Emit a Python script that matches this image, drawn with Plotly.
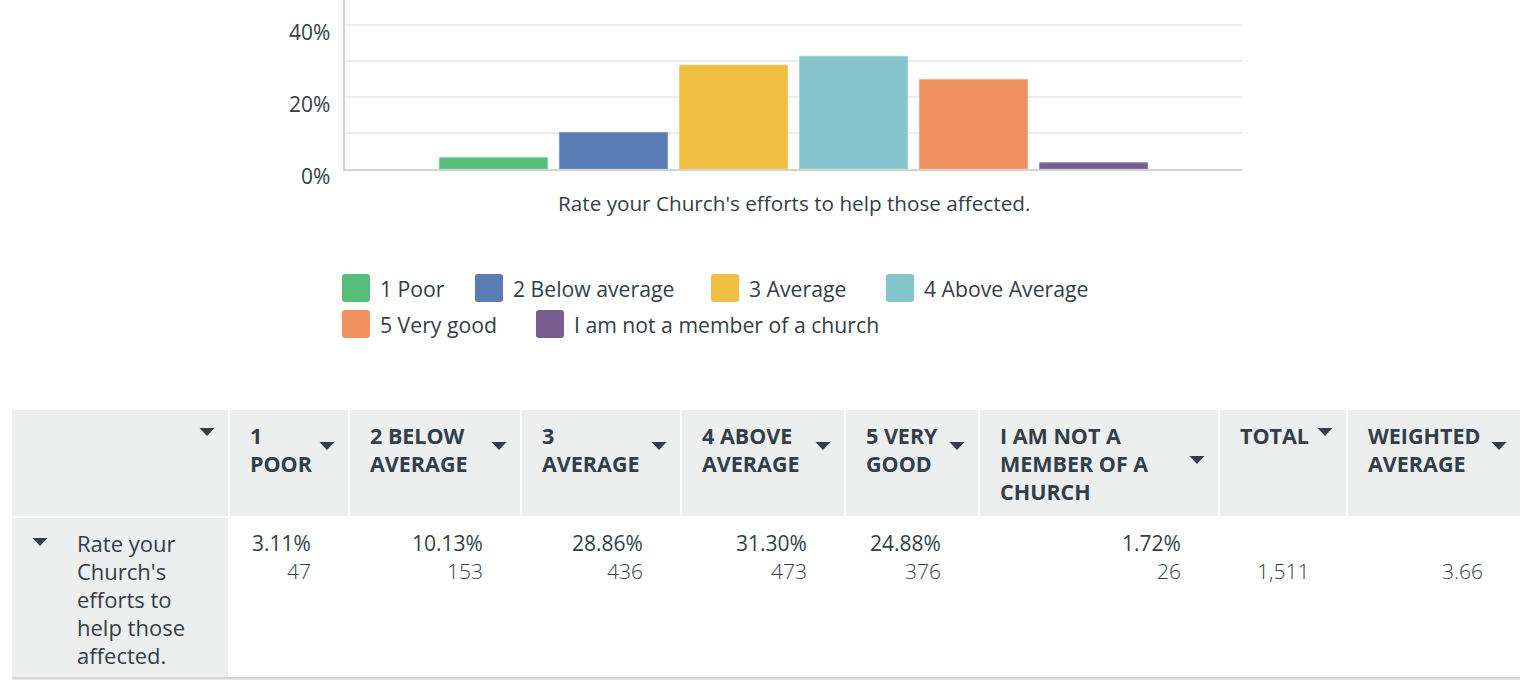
import plotly.graph_objects as go

# ---------------- data ----------------
categories = ["1 Poor", "2 Below average", "3 Average", "4 Above Average",
              "5 Very good", "I am not a member of a church"]
percents = [3.11, 10.13, 28.86, 31.30, 24.88, 1.72]
counts = [47, 153, 436, 473, 376, 26]
total = 1511
weighted_avg = 3.66
question = "Rate your Church's efforts to help those affected."
question_wrapped = ["Rate your", "Church's", "efforts to", "help those", "affected."]
header_labels = [["1", "POOR"], ["2 BELOW", "AVERAGE"], ["3", "AVERAGE"],
                 ["4 ABOVE", "AVERAGE"], ["5 VERY", "GOOD"],
                 ["I AM NOT A", "MEMBER OF A", "CHURCH"], ["TOTAL"],
                 ["WEIGHTED", "AVERAGE"]]
tick_vals = [0, 10, 20, 30, 40]
tick_text = ["0%", "", "20%", "", "40%"]

# ---------------- style ----------------
colors = ["#56BD79", "#5A7DB5", "#F0BF42", "#83C5CA", "#F0915F", "#775E8E"]
edge_colors = ["#7ccd97", "#7d98c6", "#f5cf6e", "#a3d4d8", "#f4ad86", "#957fa9"]
TXT = "#333e48"
FONT = "'Open Sans', 'Noto Sans', sans-serif"
W, H = 1534, 692


def X(px):
    return px / W


def Y(py):
    return 1 - py / H


fig = go.Figure()
for name, val, c, ec in zip(categories, percents, colors, edge_colors):
    fig.add_trace(go.Bar(x=[0], y=[val], name=name, marker_color=c,
                         marker_line_color=ec, marker_line_width=1,
                         showlegend=False, hoverinfo="name+y"))

shapes = []
annotations = []

# y tick labels
for v, t in zip(tick_vals, tick_text):
    if t:
        annotations.append(dict(x=X(332), xref="paper", y=v, yref="y", yshift=-7,
                                text=t, showarrow=False, xanchor="right",
                                yanchor="middle", font=dict(size=21, color=TXT)))

# x axis title
annotations.append(dict(x=X(794), y=Y(203), xref="paper", yref="paper", text=question,
                        showarrow=False, xanchor="center", yanchor="middle",
                        font=dict(size=20.7, color=TXT)))


def rrect(x0, y0, x1, y1, r):
    path = (f"M{X(x0 + r)},{Y(y0)} L{X(x1 - r)},{Y(y0)} Q{X(x1)},{Y(y0)} {X(x1)},{Y(y0 + r)} "
            f"L{X(x1)},{Y(y1 - r)} Q{X(x1)},{Y(y1)} {X(x1 - r)},{Y(y1)} "
            f"L{X(x0 + r)},{Y(y1)} Q{X(x0)},{Y(y1)} {X(x0)},{Y(y1 - r)} "
            f"L{X(x0)},{Y(y0 + r)} Q{X(x0)},{Y(y0)} {X(x0 + r)},{Y(y0)} Z")
    return path


# legend (manual)
legend_x = [342, 475, 711, 886, 342, 536]
legend_y = [288, 288, 288, 288, 324, 324]
for name, c, lx, ly in zip(categories, colors, legend_x, legend_y):
    shapes.append(dict(type="path", xref="paper", yref="paper",
                       path=rrect(lx, ly - 14, lx + 28, ly + 14, 3),
                       fillcolor=c, line=dict(width=0)))
    annotations.append(dict(x=X(lx + 36), y=Y(ly), xref="paper", yref="paper", text=name,
                            showarrow=False, xanchor="left", yanchor="middle",
                            font=dict(size=21.2, color=TXT)))

# ---------------- table ----------------
col_x0 = [12, 230, 350, 522, 682, 846, 980, 1220, 1348]
col_x1 = [228, 348, 520, 680, 844, 978, 1218, 1346, 1520]
head_top, head_bot = 410, 516
body_top, body_bot = 518, 677
HEAD_FILL = "#edeeee"


def rect(x0, y0, x1, y1, fill):
    shapes.append(dict(type="rect", xref="paper", yref="paper",
                       x0=X(x0), x1=X(x1), y0=Y(y1), y1=Y(y0),
                       fillcolor=fill, line=dict(width=0), layer="below"))


def tri(cx, cy):
    shapes.append(dict(type="path", xref="paper", yref="paper",
                       path=f"M{X(cx - 7.5)},{Y(cy - 4)} L{X(cx + 7.5)},{Y(cy - 4)} L{X(cx)},{Y(cy + 4)} Z",
                       fillcolor=TXT, line=dict(width=0)))


for x0, x1 in zip(col_x0, col_x1):
    rect(x0, head_top, x1, head_bot, HEAD_FILL)
rect(col_x0[0], body_top, col_x1[0], body_bot, HEAD_FILL)
rect(col_x0[0], body_bot, col_x1[-1], body_bot + 2.5, "#d3d5d6")

LINE_Y = [435, 463, 491]
tri(col_x1[0] - 21, 432)
for i, lines in enumerate(header_labels):
    c = i + 1
    for j, ln in enumerate(lines):
        annotations.append(dict(x=X(col_x0[c] + 18), y=Y(LINE_Y[j]), xref="paper", yref="paper",
                                text=f"<b>{ln}</b>", showarrow=False, xanchor="left",
                                yanchor="middle", font=dict(size=21.5, color=TXT)))
    if lines == ["TOTAL"]:
        tri(col_x0[c] + 105, 432)
    else:
        cy = (LINE_Y[0] + LINE_Y[len(lines) - 1]) / 2 - 3
        tri(col_x1[c] - 21, cy)

# row label
tri(40, 542)
for j, ln in enumerate(question_wrapped):
    annotations.append(dict(x=X(75), y=Y(543 + 28 * j), xref="paper", yref="paper",
                            text=ln, showarrow=False, xanchor="left", yanchor="middle",
                            font=dict(size=22, color=TXT)))

# body values
for i, (p, n) in enumerate(zip(percents, counts)):
    c = i + 1
    annotations.append(dict(x=X(col_x1[c] - 35), y=Y(543), xref="paper", yref="paper",
                            text=f"{p:.2f}%", showarrow=False, xanchor="right", yanchor="middle",
                            font=dict(size=21, color=TXT)))
    annotations.append(dict(x=X(col_x1[c] - 35), y=Y(571), xref="paper", yref="paper",
                            text=f"{n}", showarrow=False, xanchor="right", yanchor="middle",
                            font=dict(size=21, color=TXT, weight=300)))
annotations.append(dict(x=X(col_x1[7] - 35), y=Y(571), xref="paper", yref="paper",
                        text=f"{total:,}", showarrow=False, xanchor="right", yanchor="middle",
                        font=dict(size=21, color=TXT, weight=300)))
annotations.append(dict(x=X(col_x1[8] - 35), y=Y(571), xref="paper", yref="paper",
                        text=f"{weighted_avg:.2f}", showarrow=False, xanchor="right", yanchor="middle",
                        font=dict(size=21, color=TXT, weight=300)))

fig.update_layout(
    width=W, height=H,
    margin=dict(l=0, r=0, t=0, b=0),
    paper_bgcolor="white", plot_bgcolor="white",
    font=dict(family=FONT, color=TXT),
    barmode="group", bargap=0.197, bargroupgap=0.1,
    xaxis=dict(domain=[X(345), X(1242)], range=[-0.5, 0.5], showticklabels=False,
               showgrid=False, zeroline=False, showline=True, linecolor="#d0d2d3",
               linewidth=2, ticks="", fixedrange=True),
    yaxis=dict(domain=[Y(169), 1], range=[0, 169 / 3.6], tickvals=tick_vals,
               showticklabels=False, showgrid=True, gridcolor="#ececec", gridwidth=2,
               zeroline=False, showline=True, linecolor="#d0d2d3", linewidth=2,
               ticks="", fixedrange=True),
    shapes=shapes,
    annotations=annotations,
    showlegend=False,
)

fig.write_html("out.html")
